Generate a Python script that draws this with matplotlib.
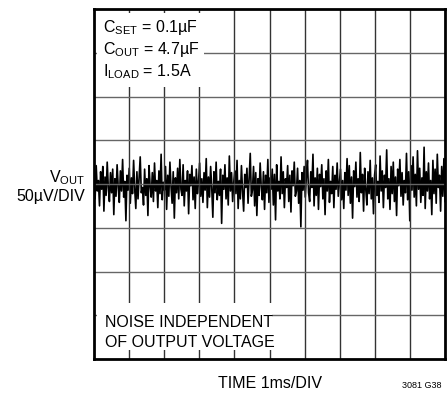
import matplotlib
matplotlib.use('Agg')
import matplotlib.pyplot as plt
from matplotlib.patches import Rectangle

plt.rcParams['font.family'] = ['Liberation Sans Narrow', 'Liberation Sans', 'DejaVu Sans']

# scope settings
time_per_div = 1.0      # ms
volt_per_div = 50.0     # uV
n_xdiv = 10
n_ydiv = 8

# output noise, uV (32 samples per division)
vout_noise = [
    11, -17, 21, -8, 4, -25, 14, -6, 20, -31, 8, -13, 25, -4, -20, 13, -10, 17, -35, 6, -14, 22, -3, -21, 15, -8, 28, -15, 3, -42, 10, -7,
    18, -22, 7, -11, 27, -6, -28, 14, -17, 8, 31, -10, -4, -24, 17, -13, 6, -36, 21, -2, -15, 13, -20, 24, -8, 4, -27, 15, -11, 34, -18, 2,
    -7, 20, -29, 10, -14, 25, -3, -22, 14, -39, 7, -10, 18, -17, 28, -6, -13, 22, -25, 4, -8, 15, -34, 11, -2, 21, -18, 8, -28, 17, -11, 3,
    24, -14, 6, -21, 13, -7, 29, -27, 8, -15, 20, -4, -38, 14, -10, 25, -18, 3, -13, 17, -45, 10, -6, 22, -17, 7, -24, 32, -8, 13, -20, 2,
    15, -11, 27, -28, 4, -17, 21, -8, -31, 11, -4, 18, -22, 8, 35, -14, -7, 20, -25, 13, -36, 6, -13, 24, -3, -18, 14, -29, 10, -10, 28, -21,
    7, -6, 17, -24, 11, -41, 22, -8, 3, -17, 31, -11, 14, -27, 6, -4, 21, -20, 10, -32, 15, -2, 25, -14, -8, 18, -22, 4, -49, 13, -7, 20,
    -15, 8, 27, -10, -20, 14, -4, 34, -25, 7, -13, 18, -29, 11, -3, 22, -17, 6, -35, 15, -8, 28, -21, 3, -11, 20, -27, 10, -6, 24, -14, 2,
    17, -18, 4, -28, 13, -7, 29, -13, 21, -22, 8, -39, 15, -3, 25, -15, 6, -20, 36, -10, 11, -31, 18, -6, -24, 14, -11, 27, -17, 7, -34, 10,
    22, -13, 3, -21, 32, -8, 15, -27, 10, -4, 39, -17, 6, -29, 20, -11, 25, -20, 8, -36, 17, -2, 28, -14, 13, -24, 4, -10, 35, -18, 14, -42,
    21, -7, 31, -15, 11, -25, 38, -6, 18, -21, 7, -13, 42, -28, 14, -8, 24, -17, 4, -35, 27, -11, 17, -22, 34, -4, 10, -31, 20, -14, 29, -20,
]
t_ms = [i * n_xdiv * time_per_div / (len(vout_noise) - 1) for i in range(len(vout_noise))]

conditions = [r'C$_\mathregular{SET}$ = 0.1µF',
              r'C$_\mathregular{OUT}$ = 4.7µF',
              r'I$_\mathregular{LOAD}$ = 1.5A']
note = ['NOISE INDEPENDENT', 'OF OUTPUT VOLTAGE']

fig = plt.figure(figsize=(4.47, 3.93), dpi=100)
ax = fig.add_axes([94 / 447, 34 / 393, 351 / 447, 350 / 393])

ymax = n_ydiv / 2 * volt_per_div
ax.set_xlim(0, n_xdiv * time_per_div)
ax.set_ylim(-ymax, ymax)

ax.plot(t_ms, vout_noise, color='black', lw=1.2, zorder=2)

# scope graticule
for i in range(1, n_xdiv):
    ax.axvline(i * time_per_div, color='#333333', lw=1.0, zorder=3)
for j in range(1, n_ydiv):
    ax.axhline(-ymax + j * volt_per_div, color='#666666', lw=1.0, zorder=3)

ax.set_xticks([])
ax.set_yticks([])
for s in ax.spines.values():
    s.set_linewidth(2)
    s.set_color('black')
    s.set_zorder(6)

# white boxes behind the annotations
ax.add_patch(Rectangle((0.08, 111), 3.05, 84, facecolor='white', edgecolor='none', zorder=4))
ax.add_patch(Rectangle((0.08, -190), 4.98, 54, facecolor='white', edgecolor='none', zorder=4))

for k, s in enumerate(conditions):
    ax.text(0.26, 179 - k * 25.5, s, fontsize=11.5, va='center', ha='left', zorder=5)
for k, s in enumerate(note):
    ax.text(0.3, -158 - k * 23, s, fontsize=11.5, va='center', ha='left', zorder=5)

fig.text(85 / 447, 1 - 178 / 393, r'V$_\mathregular{OUT}$', fontsize=11.5, ha='right', va='center')
fig.text(85 / 447, 1 - 197 / 393, '50µV/DIV', fontsize=11.5, ha='right', va='center')
fig.text(270 / 447, 1 - 383 / 393, 'TIME 1ms/DIV', fontsize=11.5, ha='center', va='center')
fig.text(442 / 447, 1 - 385 / 393, '3081 G38', fontsize=6.5, ha='right', va='center')

fig.savefig('out.png', dpi=100)
